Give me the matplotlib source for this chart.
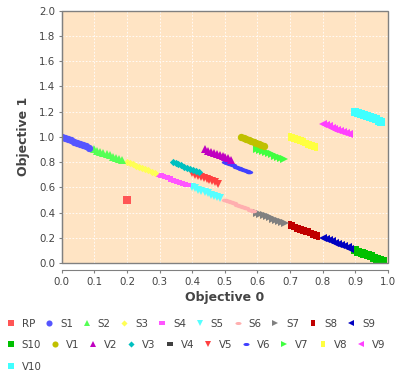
import matplotlib
matplotlib.use('Agg')
import matplotlib.pyplot as plt
from matplotlib.path import Path
from matplotlib.lines import Line2D
from matplotlib.patches import Rectangle
from matplotlib.transforms import Affine2D

# reference point
RP_x = [0.2]
RP_y = [0.5]

S1_x = [0.000, 0.009, 0.019, 0.028, 0.038, 0.047, 0.057, 0.066, 0.076, 0.085]
S1_y = [1.000, 0.991, 0.981, 0.972, 0.962, 0.953, 0.943, 0.934, 0.924, 0.915]
S2_x = [0.100, 0.109, 0.119, 0.128, 0.138, 0.147, 0.157, 0.166, 0.176, 0.185]
S2_y = [0.900, 0.891, 0.881, 0.872, 0.862, 0.853, 0.843, 0.834, 0.824, 0.815]
S3_x = [0.200, 0.209, 0.219, 0.228, 0.238, 0.247, 0.257, 0.266, 0.276, 0.285]
S3_y = [0.800, 0.791, 0.781, 0.772, 0.762, 0.753, 0.743, 0.734, 0.724, 0.715]
S4_x = [0.300, 0.309, 0.319, 0.328, 0.338, 0.347, 0.357, 0.366, 0.376, 0.385]
S4_y = [0.700, 0.691, 0.681, 0.672, 0.662, 0.653, 0.643, 0.634, 0.624, 0.615]
S5_x = [0.400, 0.409, 0.419, 0.428, 0.438, 0.447, 0.457, 0.466, 0.476, 0.485]
S5_y = [0.600, 0.591, 0.581, 0.572, 0.562, 0.553, 0.543, 0.534, 0.524, 0.515]
S6_x = [0.500, 0.509, 0.519, 0.528, 0.538, 0.547, 0.557, 0.566, 0.576, 0.585]
S6_y = [0.500, 0.491, 0.481, 0.472, 0.462, 0.453, 0.443, 0.434, 0.424, 0.415]
S7_x = [0.600, 0.609, 0.619, 0.628, 0.638, 0.647, 0.657, 0.666, 0.676, 0.685]
S7_y = [0.400, 0.391, 0.381, 0.372, 0.362, 0.353, 0.343, 0.334, 0.324, 0.315]
S8_x = [0.700, 0.709, 0.719, 0.728, 0.738, 0.747, 0.757, 0.766, 0.776, 0.785]
S8_y = [0.300, 0.291, 0.281, 0.272, 0.262, 0.253, 0.243, 0.234, 0.224, 0.215]
S9_x = [0.800, 0.809, 0.819, 0.828, 0.838, 0.847, 0.857, 0.866, 0.876, 0.885]
S9_y = [0.200, 0.191, 0.181, 0.172, 0.162, 0.153, 0.143, 0.134, 0.124, 0.115]
S10_x = [0.900, 0.909, 0.919, 0.928, 0.938, 0.947, 0.957, 0.966, 0.976, 0.985]
S10_y = [0.100, 0.091, 0.081, 0.072, 0.062, 0.053, 0.043, 0.034, 0.024, 0.015]

V1_x = [0.550, 0.558, 0.566, 0.573, 0.581, 0.589, 0.597, 0.604, 0.612, 0.620]
V1_y = [1.000, 0.992, 0.984, 0.977, 0.969, 0.961, 0.953, 0.946, 0.938, 0.930]
V2_x = [0.440, 0.449, 0.458, 0.467, 0.476, 0.484, 0.493, 0.502, 0.511, 0.520]
V2_y = [0.900, 0.891, 0.882, 0.873, 0.864, 0.856, 0.847, 0.838, 0.829, 0.820]
V3_x = [0.340, 0.349, 0.358, 0.367, 0.376, 0.384, 0.393, 0.402, 0.411, 0.420]
V3_y = [0.800, 0.791, 0.782, 0.773, 0.764, 0.756, 0.747, 0.738, 0.729, 0.720]
V4_x = [0.300, 0.309, 0.319, 0.328, 0.338, 0.347, 0.357, 0.366, 0.376, 0.385]
V4_y = [0.700, 0.691, 0.681, 0.672, 0.662, 0.653, 0.643, 0.634, 0.624, 0.615]
V5_x = [0.400, 0.409, 0.418, 0.427, 0.436, 0.444, 0.453, 0.462, 0.471, 0.480]
V5_y = [0.710, 0.701, 0.692, 0.683, 0.674, 0.666, 0.657, 0.648, 0.639, 0.630]
V6_x = [0.500, 0.508, 0.517, 0.525, 0.533, 0.542, 0.550, 0.558, 0.567, 0.575]
V6_y = [0.800, 0.791, 0.782, 0.773, 0.764, 0.756, 0.747, 0.738, 0.729, 0.720]
V7_x = [0.600, 0.609, 0.618, 0.627, 0.636, 0.644, 0.653, 0.662, 0.671, 0.680]
V7_y = [0.905, 0.896, 0.887, 0.878, 0.869, 0.861, 0.852, 0.843, 0.834, 0.825]
V8_x = [0.700, 0.709, 0.718, 0.727, 0.736, 0.744, 0.753, 0.762, 0.771, 0.780]
V8_y = [1.000, 0.991, 0.982, 0.973, 0.964, 0.956, 0.947, 0.938, 0.929, 0.920]
V9_x = [0.800, 0.809, 0.818, 0.827, 0.836, 0.844, 0.853, 0.862, 0.871, 0.880]
V9_y = [1.100, 1.091, 1.082, 1.073, 1.064, 1.056, 1.047, 1.038, 1.029, 1.020]
V10_x = [0.900, 0.909, 0.918, 0.927, 0.936, 0.944, 0.953, 0.962, 0.971, 0.980]
V10_y = [1.200, 1.191, 1.182, 1.173, 1.164, 1.156, 1.147, 1.138, 1.129, 1.120]

names = ['RP', 'S1', 'S2', 'S3', 'S4', 'S5', 'S6', 'S7', 'S8', 'S9', 'S10',
         'V1', 'V2', 'V3', 'V4', 'V5', 'V6', 'V7', 'V8', 'V9', 'V10']
xs = [RP_x, S1_x, S2_x, S3_x, S4_x, S5_x, S6_x, S7_x, S8_x, S9_x, S10_x,
      V1_x, V2_x, V3_x, V4_x, V5_x, V6_x, V7_x, V8_x, V9_x, V10_x]
ys = [RP_y, S1_y, S2_y, S3_y, S4_y, S5_y, S6_y, S7_y, S8_y, S9_y, S10_y,
      V1_y, V2_y, V3_y, V4_y, V5_y, V6_y, V7_y, V8_y, V9_y, V10_y]

colors = ['#ff5555', '#5555ff', '#55ff55', '#ffff55', '#ff55ff', '#55ffff',
          '#ffafaf', '#808080', '#c00000', '#0000c0', '#00c000', '#c0c000',
          '#c000c0', '#00c0c0', '#404040', '#ff4040', '#4040ff', '#40ff40',
          '#ffff40', '#ff40ff', '#40ffff']

# jfreechart style shape sequence
hrect = Path([(-1, -0.5), (1, -0.5), (1, 0.5), (-1, 0.5), (-1, -0.5)])
vrect = Path([(-0.5, -1), (0.5, -1), (0.5, 1), (-0.5, 1), (-0.5, -1)])
diamond = Path([(0, 1), (1, 0), (0, -1), (-1, 0), (0, 1)])
hellipse = Path.unit_circle().transformed(Affine2D().scale(1, 0.5))
shapes = ['s', 'o', '^', diamond, hrect, 'v', hellipse, '>', vrect, '<']

ms = 5.3
fs = 7.4
grey = '#444444'

fig = plt.figure(figsize=(4, 3.78), dpi=100)
ax = fig.add_axes([0.154, 0.304, 0.816, 0.668])
ax.set_facecolor('#ffe4c4')
ax.add_patch(Rectangle((0, 0), 1, 1, transform=ax.transAxes, fill=False,
                       edgecolor='#808080', linewidth=1, zorder=50, clip_on=False))

handles = []
for i in range(len(names)):
    mk = shapes[i % 10]
    ax.plot(xs[i], ys[i], linestyle='none', marker=mk, markersize=ms,
            markeredgewidth=0, color=colors[i], zorder=40 - i)
    handles.append(Line2D([], [], linestyle='none', marker=mk, markersize=4.4,
                          markeredgewidth=0, color=colors[i]))

ax.set_xlim(0, 1.0)
ax.set_ylim(0, 2.0)
ax.set_xticks([i / 10 for i in range(11)])
ax.set_yticks([i / 5 for i in range(11)])
ax.xaxis.set_major_formatter(matplotlib.ticker.FormatStrFormatter('%.1f'))
ax.yaxis.set_major_formatter(matplotlib.ticker.FormatStrFormatter('%.1f'))
ax.grid(True, color='white', linestyle=(0, (2, 2)), linewidth=0.6)
ax.set_axisbelow(True)

for s in ['top', 'right']:
    ax.spines[s].set_visible(False)
ax.spines['left'].set_color('#808080')
ax.spines['bottom'].set_color('#808080')
ax.spines['bottom'].set_position(('outward', 5))
ax.tick_params(direction='out', length=2.2, width=0.8, color='#808080',
               labelsize=fs, labelcolor=grey, pad=2.5)

ax.set_xlabel('Objective 0', fontsize=9.0, fontweight='bold', color=grey, labelpad=3.5)
ax.set_ylabel('Objective 1', fontsize=9.0, fontweight='bold', color=grey, labelpad=6)

rows = [range(0, 10), range(10, 20), range(20, 21)]
row_y = [0.143, 0.0873, 0.030]
for r, yy in zip(rows, row_y):
    leg = fig.legend([handles[i] for i in r], [names[i] for i in r],
                     ncol=len(r), loc='center left', bbox_to_anchor=(0.014, yy),
                     frameon=False, fontsize=fs, handlelength=1.0,
                     handletextpad=0.57, columnspacing=0.84, borderpad=0,
                     borderaxespad=0)
    for t in leg.get_texts():
        t.set_color(grey)

fig.savefig('out.png', dpi=100)
